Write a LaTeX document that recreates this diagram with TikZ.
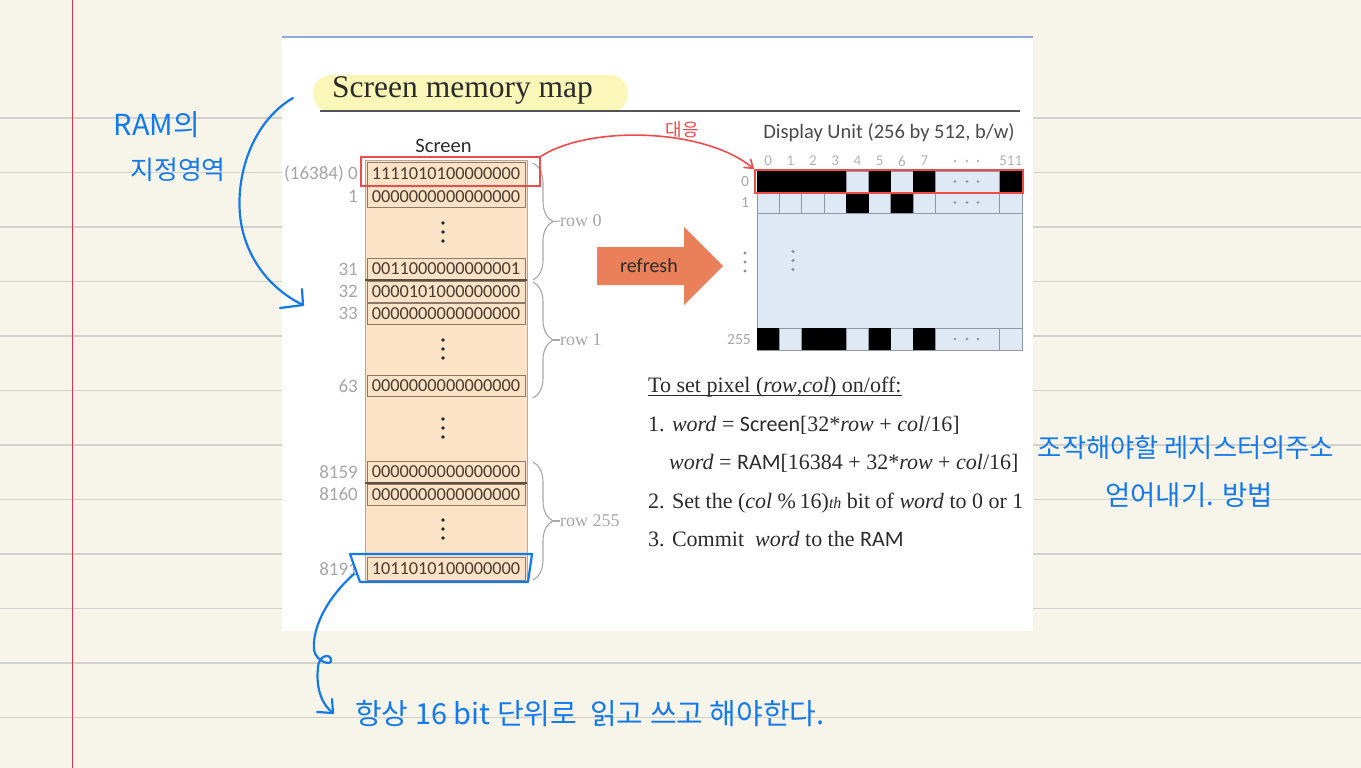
\documentclass[tikz,border=0pt]{standalone}
\usepackage{fontspec}
\setmainfont{Liberation Serif}
\setsansfont{Carlito}
\newfontfamily\krfont{Noto Sans CJK KR}
\usetikzlibrary{decorations.pathreplacing,arrows.meta,calc}
\newcommand{\myfs}[1]{\fontsize{#1}{#1}\selectfont}
\definecolor{paper}{HTML}{F7F5EA}
\definecolor{rulec}{HTML}{D3D1CB}
\definecolor{marginc}{HTML}{D9334A}
\definecolor{penblue}{HTML}{1479EA}
\definecolor{redpen}{HTML}{EE4B4B}
\definecolor{peach}{HTML}{FCE2C6}
\definecolor{colborder}{HTML}{B9A898}
\definecolor{cellline}{HTML}{8C7A69}
\definecolor{sepc}{HTML}{5E4E40}
\definecolor{addrc}{HTML}{A6A6A6}
\definecolor{wordc}{HTML}{4B3C2F}
\definecolor{pixc}{HTML}{DFE8F5}
\definecolor{gridc}{HTML}{8F99A6}
\definecolor{refrc}{HTML}{E9805A}
\definecolor{hlc}{HTML}{FAF7B8}
\definecolor{slidetop}{HTML}{8EAADB}
\definecolor{txtc}{HTML}{2B2B2B}
\definecolor{headc}{HTML}{B3B3B3}
\definecolor{dotc}{HTML}{8E8E8E}
\definecolor{bracec}{HTML}{A8A8A8}
\definecolor{ulinec}{HTML}{555555}
\tikzset{
  wordcell/.style={draw=cellline, line width=0.9pt, fill=peach, minimum width=158pt, minimum height=21pt, inner sep=0pt, font=\sffamily\myfs{18.3}, text=wordc},
  addrlbl/.style={anchor=east, inner sep=0pt, font=\sffamily\myfs{19}, text=addrc},
  bracestyle/.style={draw=bracec, line width=1.1pt, decorate, decoration={brace, amplitude=20pt}},
  rowlbl/.style={anchor=west, inner sep=0pt, font=\myfs{18}, text=addrc},
  headlbl/.style={inner sep=0pt, font=\sffamily\myfs{15}, text=headc},
  sidelbl/.style={inner sep=0pt, font=\sffamily\myfs{15.5}, text=addrc},
  ruletxt/.style={anchor=base west, inner sep=0pt, font=\myfs{22}, text=txtc},
  penline/.style={draw=penblue, line width=2.2pt, line cap=round, line join=round},
  pentxt/.style={inner sep=0pt, text=penblue, font=\krfont\myfs{26}},
  selbox/.style={draw=redpen, line width=1.6pt, inner sep=0pt},
}
\begin{document}
\begin{tikzpicture}[x=1pt,y=-1pt]
\useasboundingbox (0,0) rectangle (1361,768);
% notebook paper
\fill[paper] (0,0) rectangle (1361,768);
\foreach \yy in {118,172.5,...,720} \draw[rulec, line width=1.4pt] (0,\yy) -- (1361,\yy);
\draw[marginc, line width=1.5pt] (72.5,0) -- (72.5,768);
% slide
\fill[white] (282,37) rectangle (1033,631);
\draw[slidetop, line width=2pt] (282,37) -- (1033,37);
% title
\fill[hlc, rounded corners=18pt] (313,75) rectangle (628,112);
\draw[ulinec, line width=2pt] (320,110.5) -- (1020,110.5);
\node[anchor=base west, inner sep=0pt, font=\myfs{31.5}, text=txtc] (title) at (332,98) {Screen memory map};
% memory column
\node[anchor=base, inner sep=0pt, font=\sffamily\myfs{20.5}, text=txtc] (scr) at (443.5,152) {Screen};
\fill[peach] (365,160) rectangle (527,582);
\draw[colborder, line width=0.9pt] (365,160) rectangle (527,582);
\node[wordcell, minimum height=23pt] (w0) at (446,173.5) {1111010100000000};
\node[wordcell] (w1) at (446,196.5) {0000000000000000};
\node[wordcell] (w31) at (446,268.5) {0011000000000001};
\node[wordcell] (w32) at (446,291.5) {0000101000000000};
\node[wordcell] (w33) at (446,313.5) {0000000000000000};
\node[wordcell] (w63) at (446,385.5) {0000000000000000};
\node[wordcell] (w8159) at (446,471.5) {0000000000000000};
\node[wordcell] (w8160) at (446,494.5) {0000000000000000};
\node[wordcell, minimum height=23pt] (w8191) at (446,568.5) {1011010100000000};
\draw[sepc, line width=2pt] (365,280) -- (527,280);
\draw[sepc, line width=2pt] (365,483) -- (527,483);
\foreach \cy in {232,349,428,529} {
  \fill[black!85] (443,\cy-9) circle (1.9pt);
  \fill[black!85] (443,\cy) circle (1.9pt);
  \fill[black!85] (443,\cy+9) circle (1.9pt);
}
% addresses
\node[addrlbl] (a0) at (358,174) {(16384) 0};
\node[addrlbl] (a1) at (358,196.5) {1};
\node[addrlbl] (a31) at (358,269) {31};
\node[addrlbl] (a32) at (358,291.5) {32};
\node[addrlbl] (a33) at (358,313.5) {33};
\node[addrlbl] (a63) at (358,386) {63};
\node[addrlbl] (a8159) at (358,472) {8159};
\node[addrlbl] (a8160) at (358,494.5) {8160};
\node[addrlbl] (a8191) at (358,569) {8191};
% braces
\draw[bracestyle] (533,163) -- (533,280);
\draw[bracestyle] (533,282) -- (533,398);
\draw[bracestyle] (533,462) -- (533,580);
\node[rowlbl] (row0) at (560,221) {row 0};
\node[rowlbl] (row1) at (560,340) {row 1};
\node[rowlbl] (row255) at (560,521) {row 255};
\coordinate (t0) at (552,221.5);
\coordinate (t1) at (552,340);
\coordinate (t255) at (552,521);
\draw[bracec, line width=1.1pt] (t0) -- (row0.west);
\draw[bracec, line width=1.1pt] (t1) -- (row1.west);
\draw[bracec, line width=1.1pt] (t255) -- (row255.west);
% refresh arrow
\fill[refrc] (597,247) -- (684,247) -- (684,227) -- (723,266) -- (684,305) -- (684,285) -- (597,285) -- cycle;
\node[inner sep=0pt, font=\sffamily\myfs{20}, text=txtc] (refresh) at (649,266) {refresh};
% display unit
\node[anchor=base, inner sep=0pt, font=\sffamily\myfs{20.5}, text=txtc!85] (dtitle) at (889,138) {Display Unit (256 by 512, b/w)};
\foreach \i in {0,...,7} \node[headlbl] (h\i) at ({768.2+22.3*\i},161) {\i};
\node[headlbl] (h511) at (1010.7,161) {511};
\foreach \dx in {955,967,978} \fill[headc] (\dx,161) circle (1.4pt);
\fill[pixc] (757,171) rectangle (1022,350);
\foreach \i in {1,...,8} {
  \draw[gridc, line width=0.8pt] ({757+22.3*\i},171) -- ({757+22.3*\i},213);
  \draw[gridc, line width=0.8pt] ({757+22.3*\i},328) -- ({757+22.3*\i},350);
}
\draw[gridc, line width=0.8pt] (999.5,171) -- (999.5,213);
\draw[gridc, line width=0.8pt] (999.5,328) -- (999.5,350);
\draw[gridc, line width=0.8pt] (757,192) -- (1022,192);
\draw[gridc, line width=0.8pt] (757,213) -- (1022,213);
\draw[gridc, line width=0.8pt] (757,328) -- (1022,328);
\draw[gridc, line width=1pt] (757,171) rectangle (1022,350);
% row 0 pixels
\fill[black] (757,171) rectangle (846.2,192);
\fill[black] (868.5,171) rectangle (890.8,192);
\fill[black] (913.1,171) rectangle (935.4,192);
\fill[black] (999.5,171) rectangle (1022,192);
% row 1 pixels
\fill[black] (846.2,192) rectangle (868.5,213);
\fill[black] (890.8,192) rectangle (913.1,213);
% row 255 pixels
\fill[black] (757,328) rectangle (779.3,350);
\fill[black] (801.6,328) rectangle (846.2,350);
\fill[black] (868.5,328) rectangle (890.8,350);
\fill[black] (913.1,328) rectangle (935.4,350);
\foreach \dy in {181.5,202.5,339} \foreach \dx in {955,967,978} \fill[dotc] (\dx,\dy) circle (1.4pt);
\foreach \dy in {253,262,271} {
  \fill[dotc] (745,\dy) circle (1.6pt);
  \fill[dotc] (793,\dy-1.5) circle (1.6pt);
}
\node[sidelbl] (r0) at (745,182) {0};
\node[sidelbl] (r1) at (745,202.5) {1};
\node[sidelbl, anchor=east] (r255) at (751,339.5) {255};
% instructions
\node[ruletxt] (T0) at (648,392) {To set pixel (\textit{row},\textit{col}) on/off:};
\draw[txtc, line width=1pt] ($(T0.base west)+(0,3.5)$) -- ($(T0.base east)+(0,3.5)$);
\node[ruletxt] (T1) at (648,431) {1. \textit{word} = {\sffamily Screen}[32*\textit{row} + \textit{col}/16]};
\node[ruletxt] (T2) at (669,469) {\textit{word} = {\sffamily RAM}[16384 + 32*\textit{row} + \textit{col}/16]};
\node[ruletxt] (T3) at (648,508) {2. Set the (\textit{col} \%\,16)\textit{\myfs{16}th} bit of \textit{word} to 0 or 1};
\node[ruletxt] (T4) at (648,546) {3. Commit \ \textit{word} to the {\sffamily RAM}};
% red annotation
\node[selbox, minimum width=179.5pt, minimum height=29pt] (memsel) at (450.5,171.5) {};
\node[selbox, minimum width=268pt, minimum height=23pt] (dispsel) at (889,181.5) {};
\draw[redpen, line width=1.6pt, -{Straight Barb[length=8pt,width=11pt]}] (memsel.north east) .. controls (590,125) and (705,128) .. (dispsel.north west);
\node[inner sep=0pt, text=redpen, font=\krfont\myfs{18}] (corr) at (682,130) {대응};
% blue annotations
\node[pentxt, font=\krfont\myfs{29}] (ram) at (157,125) {RAM의};
\node[pentxt] (area) at (178,170) {지정영역};
\coordinate (la0) at (293,98);
\coordinate (la1) at (303,305);
\coordinate (la2) at (280,308);
\coordinate (la3) at (302,289);
\draw[penline] (la0) .. controls (255,120) and (236,170) .. (240,215) .. controls (244,255) and (268,288) .. (la1);
\draw[penline] (la2) -- (la1) -- (la3);
\draw[penline] (350,554) -- (532,554) -- (528,582) -- (360,582) -- cycle;
\coordinate (ba0) at (354,574);
\coordinate (ba1) at (333,713);
\coordinate (ba2) at (317,712);
\coordinate (ba3) at (332,699);
\draw[penline] (ba0) .. controls (330,595) and (312,625) .. (314,650) .. controls (316,662) and (333,667) .. (331,659) .. controls (329,653) and (318,656) .. (318,668) .. controls (316,685) and (320,703) .. (ba1);
\draw[penline] (ba2) -- (ba1) -- (ba3);
\node[pentxt, font=\krfont\myfs{29}] (bt) at (590,714) {항상 16 bit 단위로 \ 읽고 쓰고 해야한다.};
\node[pentxt, font=\krfont\myfs{26.3}] (rt1) at (1186,448) {조작해야할 레지스터의주소};
\node[pentxt, font=\krfont\myfs{27.5}] (rt2) at (1189,495) {얻어내기. 방법};
\end{tikzpicture}
\end{document}
